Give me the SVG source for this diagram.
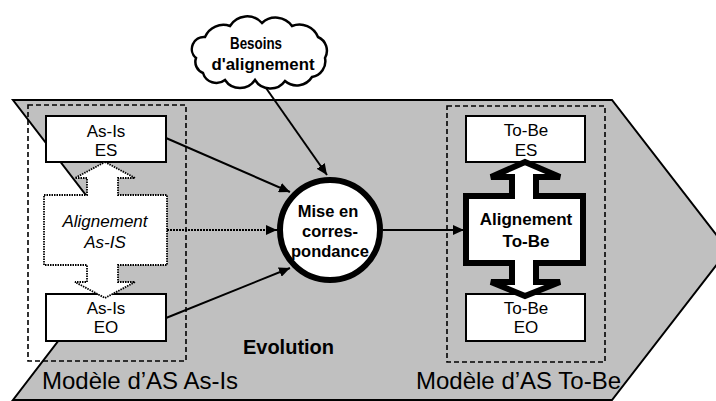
<svg xmlns="http://www.w3.org/2000/svg" width="716" height="401" viewBox="0 0 716 401">
<style>
text{font-family:"Liberation Sans",Arial,sans-serif;fill:#000;text-anchor:middle}
.b{font-weight:bold}
.box{fill:#fff;stroke:#000;stroke-width:2}
.dash{fill:none;stroke:#000;stroke-width:1.6;stroke-dasharray:5,3}
.conn{stroke:#000;stroke-width:2;fill:none}
.lbl{font-size:17px}
.big{font-size:24px;text-anchor:start}
</style>
<defs>
<marker id="ah" markerUnits="userSpaceOnUse" markerWidth="12" markerHeight="10" refX="11" refY="5" orient="auto">
<path d="M0,0 L11,5 L0,10 z" fill="#000"/>
</marker>
</defs>
<rect width="716" height="401" fill="#fff"/>
<g id="chevron">
<path d="M13,100 L612,100 L728,250 L612,400 L13,400 L128,250 Z" fill="#c0c0c0" stroke="#000" stroke-width="2"/>
</g>
<g id="asis-group">
<rect class="dash" x="28" y="105" width="158" height="256"/>
</g>
<g id="tobe-group">
<rect class="dash" x="447" y="106" width="158" height="256"/>
</g>
<g id="connectors">
<line class="conn" x1="166" y1="138" x2="290" y2="192" marker-end="url(#ah)"/>
<line class="conn" x1="167" y1="230" x2="277" y2="230" stroke-dasharray="2,1" marker-end="url(#ah)"/>
<line class="conn" x1="166" y1="318" x2="290" y2="268" marker-end="url(#ah)"/>
<line class="conn" x1="266" y1="88" x2="327" y2="175" marker-end="url(#ah)"/>
<line class="conn" x1="383" y1="230" x2="464" y2="230" marker-end="url(#ah)"/>
</g>
<g id="asis-es">
<rect class="box" x="46" y="116" width="120" height="46"/>
<text class="lbl" x="106" y="137">As-Is</text>
<text class="lbl" x="106" y="156">ES</text>
</g>
<g id="asis-eo">
<rect class="box" x="46" y="294" width="120" height="47"/>
<text class="lbl" x="106" y="314">As-Is</text>
<text class="lbl" x="106" y="333">EO</text>
</g>
<g id="asis-alignment">
<path d="M105,162 L135,178 L118,178 L118,195 L167,195 L167,265 L118,265 L118,282 L135,282 L105,298 L75,282 L87,282 L87,265 L44,265 L44,195 L87,195 L87,178 L75,178 Z" fill="#fff" stroke="#000" stroke-width="1.8" stroke-dasharray="1.5,1"/>
<text class="lbl" x="105" y="227" font-style="italic">Alignement</text>
<text class="lbl" x="105" y="248" font-style="italic">As-IS</text>
</g>
<g id="tobe-es">
<rect class="box" x="466" y="116" width="119" height="46"/>
<text class="lbl" x="526" y="136">To-Be</text>
<text class="lbl" x="526" y="156">ES</text>
</g>
<g id="tobe-eo">
<rect class="box" x="466" y="294" width="119" height="47"/>
<text class="lbl" x="526" y="314">To-Be</text>
<text class="lbl" x="526" y="333">EO</text>
</g>
<g id="tobe-alignment">
<path d="M525,162 L560,177 L536,177 L536,196 L583,196 L583,263 L536,263 L536,282 L560,282 L525,296 L491,282 L512,282 L512,263 L466,263 L466,196 L512,196 L512,177 L491,177 Z" fill="#fff" stroke="#000" stroke-width="6" stroke-linejoin="miter"/>
<text class="lbl b" x="526" y="225">Alignement</text>
<text class="lbl b" x="526" y="247">To-Be</text>
</g>
<g id="matching">
<circle cx="330" cy="230" r="50" fill="#fff" stroke="#000" stroke-width="6"/>
<text class="b" font-size="16.5" x="328" y="217">Mise en</text>
<text class="b" font-size="16.5" x="330" y="237">corres-</text>
<text class="b" font-size="16.5" x="330" y="257">pondance</text>
</g>
<g id="besoins">
<path d="M196,58 A12,12 0 0 1 205,37 A20,20 0 0 1 230,26 A20,20 0 0 1 262,23 A20,20 0 0 1 292,26 A20,20 0 0 1 318,37 A15,15 0 0 1 325,58 A16,16 0 0 1 312,77 A18,18 0 0 1 285,81 A18,18 0 0 1 255,80 A18,18 0 0 1 225,80 A14,14 0 0 1 203,73 A12,12 0 0 1 196,58 Z" fill="#fff" stroke="#000" stroke-width="2.5"/>
<text class="b" font-size="17" x="256" y="49" textLength="52" lengthAdjust="spacingAndGlyphs">Besoins</text>
<text class="b" font-size="17" x="263" y="70" textLength="103" lengthAdjust="spacingAndGlyphs">d'alignement</text>
</g>
<g id="labels">
<text class="b" font-size="20" x="288.5" y="354">Evolution</text>
<text class="big" x="42" y="389">Modèle d’AS As-Is</text>
<text class="big" x="416" y="389">Modèle d’AS To-Be</text>
</g>
</svg>
